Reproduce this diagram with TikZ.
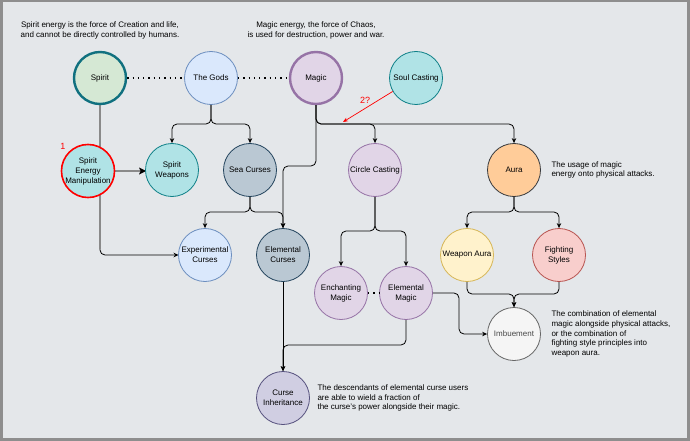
\documentclass[tikz,border=0pt]{standalone}
\usepackage{fontspec}
\setmainfont{Liberation Sans}
\usetikzlibrary{arrows.meta}
\definecolor{bgc}{HTML}{E4E7EA}
\definecolor{frame}{HTML}{8E8E8E}
\definecolor{gfill}{HTML}{D5E8D4}
\definecolor{tealdk}{HTML}{10707F}
\definecolor{bfill}{HTML}{DAE8FC}
\definecolor{bdraw}{HTML}{6C8EBF}
\definecolor{pfill}{HTML}{E1D5E7}
\definecolor{pdraw}{HTML}{9673A6}
\definecolor{cfill}{HTML}{B0E3E6}
\definecolor{cdraw}{HTML}{0E8088}
\definecolor{sfill}{HTML}{BAC8D3}
\definecolor{sdraw}{HTML}{23445D}
\definecolor{ofill}{HTML}{FFCC99}
\definecolor{odraw}{HTML}{36393D}
\definecolor{yfill}{HTML}{FFF2CC}
\definecolor{ydraw}{HTML}{D6B656}
\definecolor{rfill}{HTML}{F8CECC}
\definecolor{rdraw}{HTML}{B85450}
\definecolor{wfill}{HTML}{F5F5F5}
\definecolor{wdraw}{HTML}{666666}
\definecolor{vfill}{HTML}{D0CEE2}
\definecolor{vdraw}{HTML}{56517E}
\definecolor{glin}{HTML}{8A8A8A}
\begin{document}
\begin{tikzpicture}[x=1pt,y=-1pt,
  every node/.style={font=\fontsize{8}{10}\selectfont},
  bub/.style={circle,minimum size=53pt,inner sep=0pt,align=center,line width=0.8pt},
  arr/.style={draw=black,line width=0.8pt,rounded corners=5pt,-{Stealth[length=5pt,width=4.5pt]}},
  dots/.style={draw=black,line width=1.3pt,dash pattern=on 1.3pt off 4pt},
  glinestyle/.style={draw=glin,line width=2pt},
  note/.style={align=left,anchor=west,font=\fontsize{8}{9.6}\selectfont}]
\useasboundingbox (0,0) rectangle (690,441);
\fill[frame] (0,0) rectangle (690,441);
\fill[bgc] (2.5,2.5) rectangle (686.5,437.5);

% texts
\node[align=center] (t1) at (100,30) {Spirit energy is the force of Creation and life,\\and cannot be directly controlled by humans.};
\node[align=center] (t2) at (316,30) {Magic energy, the force of Chaos,\\is used for destruction, power and war.};
\node[note] (t3) at (548,170) {The usage of magic\\energy onto physical attacks.};
\node[note] (t4) at (548,334) {The combination of elemental\\magic alongside physical attacks,\\or the combination of\\fighting style principles into\\weapon aura.};
\node[note] (t5) at (314,398) {The descendants of elemental curse users\\are able to wield a fraction of\\the curse's power alongside their magic.};

% node coordinates (for connectors drawn beneath nodes)
\coordinate (pspirit) at (100,78);
\coordinate (psem) at (88,171);
\coordinate (pexp) at (205,255);

% connectors under nodes
\draw[glinestyle] (100,100) -- (100,249);
\draw[arr] (100,249) |- (178.5,255);
\draw[glinestyle] (114,171) -- (140,171);
\fill[black] (146,171) -- (139,167.5) -- (140.5,171) -- (139,174.5) -- cycle;

% nodes
\node[bub,fill=gfill,draw=tealdk,line width=2.4pt,minimum size=52pt] (spirit) at (pspirit) {Spirit};
\node[bub,fill=bfill,draw=bdraw] (gods) at (211,78) {The Gods};
\node[bub,fill=pfill,draw=pdraw,line width=2.4pt,minimum size=52pt] (magic) at (316,78) {Magic};
\node[bub,fill=cfill,draw=cdraw] (soul) at (416,78) {Soul Casting};
\node[bub,fill=cfill,draw=red,line width=1.6pt,minimum size=52pt] (sem) at (psem) {Spirit\\Energy\\Manipulation};
\node[bub,fill=cfill,draw=cdraw] (sw) at (172,170) {Spirit\\Weapons};
\node[bub,fill=sfill,draw=sdraw] (sea) at (250,170) {Sea Curses};
\node[bub,fill=pfill,draw=pdraw] (cc) at (375,170) {Circle Casting};
\node[bub,fill=ofill,draw=odraw] (aura) at (514,170) {Aura};
\node[bub,fill=bfill,draw=bdraw] (exp) at (pexp) {Experimental\\Curses};
\node[bub,fill=sfill,draw=sdraw] (ec) at (283,255) {Elemental\\Curses};
\node[bub,fill=yfill,draw=ydraw] (wa) at (467,255) {Weapon Aura};
\node[bub,fill=rfill,draw=rdraw] (fs) at (559,255) {Fighting\\Styles};
\node[bub,fill=pfill,draw=pdraw] (enm) at (341,293) {Enchanting\\Magic};
\node[bub,fill=pfill,draw=pdraw] (elm) at (406,293) {Elemental\\Magic};
\node[bub,fill=wfill,draw=wdraw,text=wdraw!70!black] (imb) at (514,334) {Imbuement};
\node[bub,fill=vfill,draw=vdraw] (ci) at (283,398) {Curse\\Inheritance};

% labels
\node[text=red,font=\fontsize{9}{10}\selectfont] (l1) at (63,146) {1};
\node[text=red,font=\fontsize{9}{10}\selectfont] (l2) at (365,100) {2?};

% dotted links
\draw[dots] (spirit.east) -- (gods.west);
\draw[dots] (gods.east) -- (magic.west);
\draw[dots] (enm.east) -- (elm.west);

% tree connectors
\coordinate (gsp) at (211,124);
\draw[arr] (gods.south) -- (gsp) -| (sw.north);
\draw[arr] (gods.south) -- (gsp) -| (sea.north);
\coordinate (msp) at (316,124);
\draw[arr] (magic.south) -- (msp) -| (cc.north);
\draw[arr] (magic.south) -- (msp) -| (aura.north);
\draw[arr] (magic.south) -- (magic.south |- 0,166) -| (ec.north);
\coordinate (ssp) at (250,212);
\draw[arr] (sea.south) -- (ssp) -| (exp.north);
\draw[arr] (sea.south) -- (ssp) -| (ec.north);
\coordinate (csp) at (375,231);
\draw[arr] (cc.south) -- (csp) -| (enm.north);
\draw[arr] (cc.south) -- (csp) -| (elm.north);
\coordinate (asp) at (514,212);
\draw[arr] (aura.south) -- (asp) -| (wa.north);
\draw[arr] (aura.south) -- (asp) -| (fs.north);
\draw[arr] (wa.south) -- (wa.south |- 0,294) -| (imb.north);
\draw[arr] (fs.south) -- (fs.south |- 0,294) -| (imb.north);
\draw[arr] (ec.south) -- (ci.north);
\draw[arr] (elm.south) -- (elm.south |- 0,345) -| (ci.north);
\draw[arr] (elm.east) -- (elm.east -| 459,0) |- (imb.west);

% red link
\coordinate (rt) at (343,122);
\draw[red,line width=0.7pt,-{Stealth[length=5pt,width=4pt]}] (soul.210) -- (rt);
\end{tikzpicture}
\end{document}
